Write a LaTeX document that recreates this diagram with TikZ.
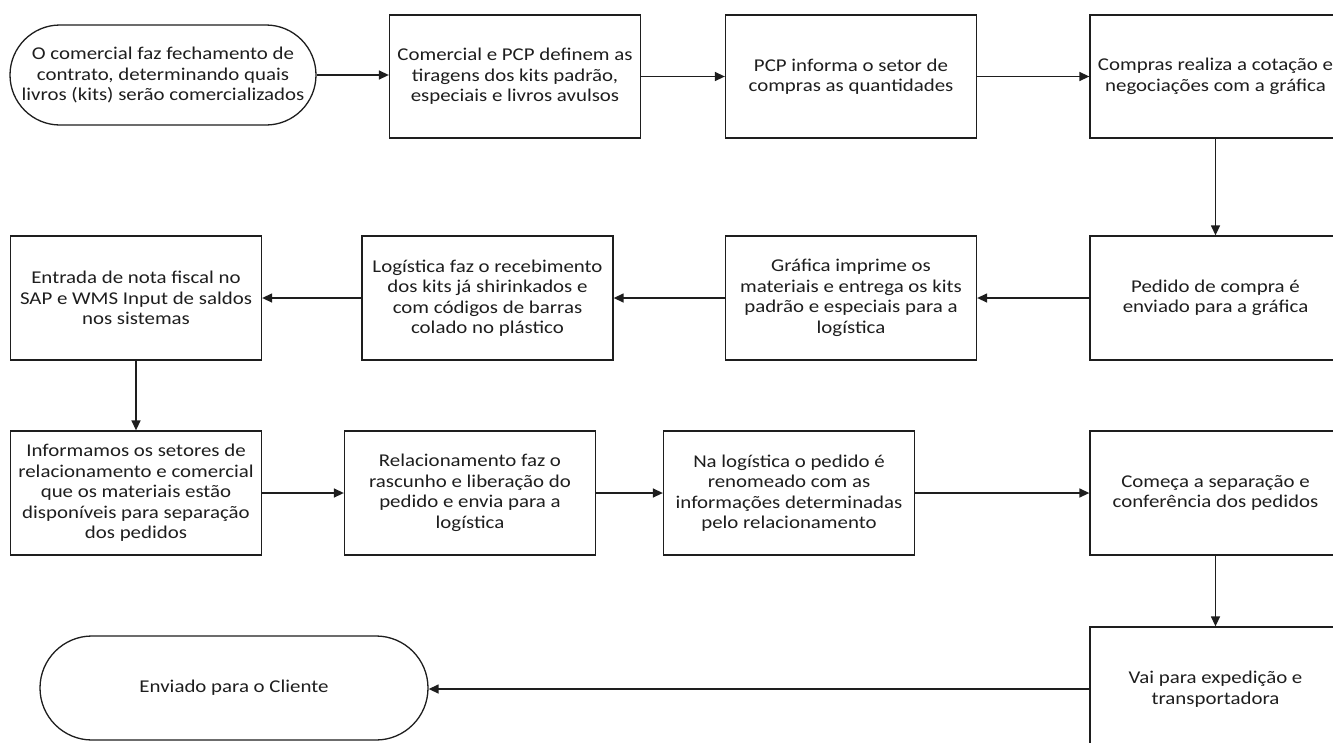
\documentclass[tikz,border=0pt]{standalone}
\usepackage{fontspec}
\setmainfont{Carlito}[FakeStretch=1.16]
\usetikzlibrary{arrows.meta,calc}
\definecolor{ink}{HTML}{1E1E1E}
\tikzset{
  stepbox/.style={draw=ink, line width=1.3pt, rectangle, minimum width=251pt, minimum height=124pt, align=center, inner sep=2pt, text=ink, font=\fontsize{18}{20.5}\selectfont},
  termbox/.style={draw=ink, line width=1.3pt, rectangle, rounded corners=50pt, align=center, inner sep=1pt, text=ink, font=\fontsize{18}{20.5}\selectfont},
  flow/.style={draw=ink, line width=1.4pt, -{Triangle[length=10pt,width=9pt]}}
}
\begin{document}
\begin{tikzpicture}[x=1pt,y=-1pt]
\useasboundingbox (0,0) rectangle (1333,742);
\clip (0,0) rectangle (1333,742);
\fill[white] (0,0) rectangle (1333,742);
% row 1
\node[termbox, minimum width=306pt, minimum height=100pt] (t1) at (163,75) {O comercial faz fechamento de\\contrato, determinando quais\\livros (kits) serão comercializados};
\node[stepbox, minimum height=123pt] (b2) at (515,76.5) {Comercial e PCP definem as\\tiragens dos kits padrão,\\especiais e livros avulsos};
\node[stepbox, minimum height=123pt] (b3) at (851,76.5) {PCP informa o setor de\\compras as quantidades};
\node[stepbox, minimum height=123pt] (b4) at (1215.5,76.5) {Compras realiza a cotação e\\negociações com a gráfica};
% row 2
\node[stepbox] (b5) at (1215.5,298) {Pedido de compra é\\enviado para a gráfica};
\node[stepbox] (b6) at (851,298) {Gráfica imprime os\\materiais e entrega os kits\\padrão e especiais para a\\logística};
\node[stepbox] (b7) at (487.5,298) {Logística faz o recebimento\\dos kits já shirinkados e\\com códigos de barras\\colado no plástico};
\node[stepbox] (b8) at (136,298) {Entrada de nota fiscal no\\SAP e WMS Input de saldos\\nos sistemas};
% row 3
\node[stepbox] (b9) at (136,493) {Informamos os setores de\\relacionamento e comercial\\que os materiais estão\\disponíveis para separação\\dos pedidos};
\node[stepbox] (b10) at (470,493) {Relacionamento faz o\\rascunho e liberação do\\pedido e envia para a\\logística};
\node[stepbox] (b11) at (789,493) {Na logística o pedido é\\renomeado com as\\informações determinadas\\pelo relacionamento};
\node[stepbox] (b12) at (1215.5,493) {Começa a separação e\\conferência dos pedidos};
% row 4
\node[stepbox] (b13) at (1215.5,689) {Vai para expedição e\\transportadora};
\node[termbox, minimum width=388pt, minimum height=104pt, rounded corners=52pt] (t2) at (234,688) {Enviado para o Cliente};
% connectors
\draw[flow] (t1.east) -- (t1.east -| b2.west);
\draw[flow] (b2) -- (b3);
\draw[flow] (b3) -- (b4);
\draw[flow] (b4) -- (b5);
\draw[flow] (b5) -- (b6);
\draw[flow] (b6) -- (b7);
\draw[flow] (b7) -- (b8);
\draw[flow] (b8) -- (b9);
\draw[flow] (b9) -- (b10);
\draw[flow] (b10) -- (b11);
\draw[flow] (b11) -- (b12);
\draw[flow] (b12) -- (b13);
\draw[flow] (b13.west) -- (b13.west -| t2.east);
\end{tikzpicture}
\end{document}
